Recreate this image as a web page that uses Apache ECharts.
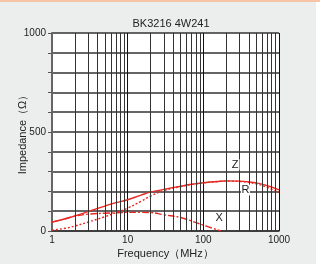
<!DOCTYPE html>
<html>
<head>
<meta charset="utf-8">
<script src="https://cdn.jsdelivr.net/npm/echarts@6/dist/echarts.min.js"></script>
<style>
* { margin: 0; padding: 0; }
body { width: 320px; height: 264px; background: #fff; position: relative; overflow: hidden; }
#bg { position: absolute; left: 0; top: 0; width: 316px; height: 264px; background: #eceeed; }
#band { position: absolute; left: 0; top: 0; width: 320px; height: 2px; background: #f8c4a6; }
#main { position: absolute; left: 0; top: 0; width: 320px; height: 264px; }
</style>
</head>
<body>
<div id="bg"></div>
<div id="band"></div>
<div id="main"></div>
<script>
// frequency points (MHz) for Z and R
var freqs = [1, 1.5, 2, 3, 5, 7, 10, 15, 20, 30, 50, 70, 100, 150, 200, 300, 500, 700, 1000];
var zVals = [45, 62, 76, 98, 126, 143, 158, 181, 196, 210, 226, 236, 244, 250, 253, 252, 243, 229, 208];
var rVals = [4, 14, 25, 45, 72, 93, 116, 150, 176, 204, 224, 235, 243, 249, 252, 250, 238, 220, 195];
// X has its own range (ends at 0 around 170 MHz)
var xFreqs = [1, 1.5, 2, 3, 5, 7, 10, 15, 20, 30, 50, 70, 100, 130, 170];
var xVals = [45, 62, 75, 85, 90, 92, 94, 94, 93, 82, 68, 50, 30, 15, 0];
// minor grid lines of the log axis
var minorFreqs = [2, 3, 4, 5, 6, 7, 8, 9, 20, 30, 40, 50, 60, 70, 80, 90, 200, 300, 400, 500, 600, 700, 800, 900];
var yTicks = [0, 500, 1000];

function pairs(xs, ys) {
  return xs.map(function (f, i) { return [f, ys[i]]; });
}

var red = '#e52a22';
var font = 'Liberation Sans, Arial, sans-serif';

var chart = echarts.init(document.getElementById('main'));
chart.setOption({
  animation: false,
  textStyle: { fontFamily: font },
  title: {
    text: 'BK3216 4W241',
    left: 166,
    textAlign: 'center',
    top: 13,
    textStyle: { fontSize: 11, fontWeight: 'normal', color: '#222', fontFamily: font }
  },
  grid: {
    left: 52, right: 41, top: 33, bottom: 33,
    outerBoundsMode: 'none', containLabel: false,
    show: true, backgroundColor: '#fff', borderWidth: 0
  },
  xAxis: {
    type: 'log',
    logBase: 10,
    min: 1, max: 1000,
    name: 'Frequency（MHz）',
    nameLocation: 'middle',
    nameGap: 17,
    nameMoveOverlap: false,
    nameTextStyle: { fontSize: 11, color: '#222', fontFamily: font },
    axisLine: { show: true, lineStyle: { color: '#333', width: 1.5 } },
    axisTick: { show: false },
    axisLabel: {
      fontSize: 10, color: '#222', margin: 4, fontFamily: font,
      formatter: function (v) { return String(v); }
    },
    splitLine: { show: true, lineStyle: { color: '#111', width: 1 } }
  },
  yAxis: {
    type: 'value',
    min: 0, max: 1000, interval: 100,
    name: 'Impedance（Ω）',
    nameLocation: 'middle',
    nameGap: 24,
    nameMoveOverlap: false,
    nameTextStyle: { fontSize: 11, color: '#222', fontFamily: font },
    axisLine: { show: true, lineStyle: { color: '#666', width: 2 } },
    axisTick: { show: true, length: 4, lineStyle: { color: '#555' } },
    axisLabel: {
      fontSize: 10, color: '#222', margin: 6, fontFamily: font,
      formatter: function (v) { return yTicks.indexOf(v) >= 0 ? String(v) : ''; }
    },
    splitLine: { show: true, lineStyle: { color: '#333', width: 1.5 } }
  },
  series: [
    {
      type: 'line', data: [], z: 1, silent: true,
      markLine: {
        silent: true, symbol: 'none', label: { show: false },
        lineStyle: { color: '#333', width: 1, type: 'solid' },
        data: minorFreqs.map(function (f) { return { xAxis: f }; })
      }
    },
    {
      name: 'Z', type: 'line', data: pairs(freqs, zVals), smooth: true, showSymbol: false, z: 3,
      lineStyle: { color: red, width: 1.4 },
      markPoint: {
        symbol: 'rect', symbolSize: [9, 11], itemStyle: { color: '#fff' },
        label: { show: true, position: 'inside', formatter: 'Z', color: '#222', fontSize: 11, fontFamily: font },
        data: [{ coord: [262, 335] }]
      }
    },
    {
      name: 'R', type: 'line', data: pairs(freqs, rVals), smooth: true, showSymbol: false, z: 3,
      lineStyle: { color: red, width: 1.4, type: [2, 2] },
      markPoint: {
        symbol: 'rect', symbolSize: [9, 11], itemStyle: { color: '#fff' },
        label: { show: true, position: 'inside', formatter: 'R', color: '#222', fontSize: 11, fontFamily: font },
        data: [{ coord: [360, 207] }]
      }
    },
    {
      name: 'X', type: 'line', data: pairs(xFreqs, xVals), smooth: true, showSymbol: false, z: 3,
      lineStyle: { color: red, width: 1.4, type: [7, 2, 2, 2] },
      markPoint: {
        symbol: 'rect', symbolSize: [9, 11], itemStyle: { color: '#fff' },
        label: { show: true, position: 'inside', formatter: 'X', color: '#222', fontSize: 11, fontFamily: font },
        data: [{ coord: [162, 66] }]
      }
    }
  ]
});
</script>
</body>
</html>
